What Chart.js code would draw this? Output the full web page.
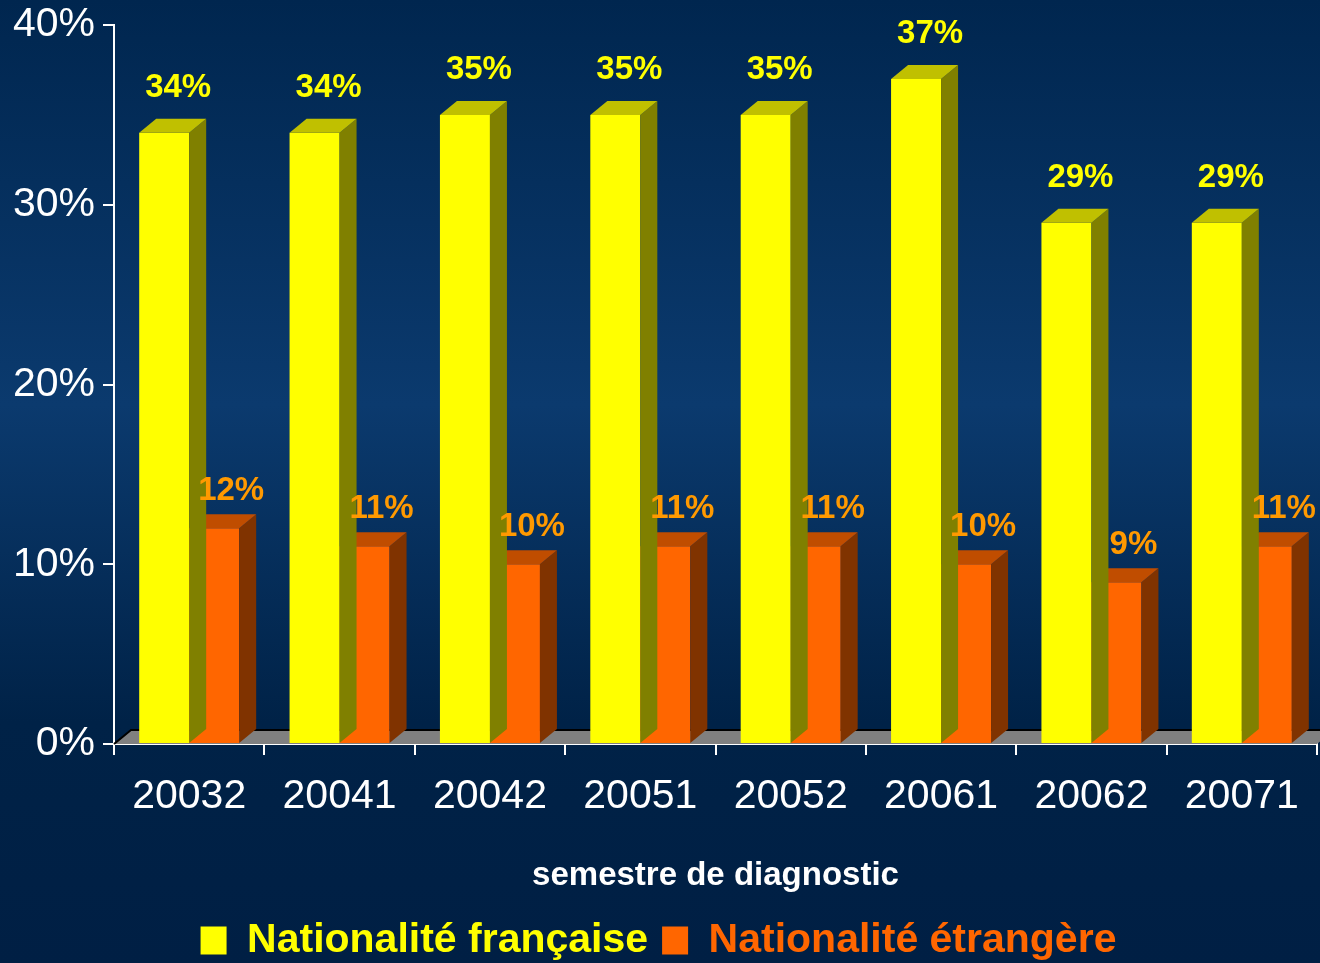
<!DOCTYPE html>
<html>
<head>
<meta charset="utf-8">
<script src="https://cdn.jsdelivr.net/npm/chart.js@4/dist/chart.umd.min.js"></script>
<style>
html,body{margin:0;padding:0;}
#wrap{
width:1320px;height:963px;position:relative;
background:linear-gradient(to bottom,#00264f 0%,#0b3a6e 42%,#002247 75%,#001f44 100%);
}
</style>
</head>
<body>
<div id="wrap"><canvas id="chart" width="1320" height="963"></canvas></div>
<script>

// Data

const semestres = ["20032","20041","20042","20051","20052","20061","20062","20071"];

const nationaliteFrancaise = [34,34,35,35,35,37,29,29];

const nationaliteEtrangere = [12,11,10,11,11,10,9,11];

const yTicks = [0,10,20,30,40];

const seriesNames = ["Nationalité française","Nationalité étrangère"];

// Colours

const frontColors = ["#ffff00","#ff6600"];
const sideColors = ["#808000","#803300"];
const topColors = ["#c0c000","#c04d00"];
const labelColors = ["#ffff00","#ff9900"];

const DX = 17;
const DY = 14;

// 3D faces + floor

const bar3d = {
id:"bar3d",
beforeDatasetsDraw(chart){
const ctx = chart.ctx;
const a = chart.chartArea;
ctx.save();
ctx.beginPath();
ctx.moveTo(a.left,a.bottom);
ctx.lineTo(a.left+DX,a.bottom-DY);
ctx.lineTo(a.right+DX,a.bottom-DY);
ctx.lineTo(a.right,a.bottom);
ctx.closePath();
ctx.fillStyle="#808080";
ctx.fill();
ctx.beginPath();
ctx.moveTo(a.left,a.bottom);
ctx.lineTo(a.left+DX,a.bottom-DY);
ctx.lineTo(a.right+DX,a.bottom-DY);
ctx.strokeStyle="#000000";
ctx.lineWidth=2;
ctx.stroke();
ctx.restore();
},
afterDatasetDraw(chart,args){
const ctx = chart.ctx;
const i = args.index;
ctx.save();
args.meta.data.forEach(function(bar){
const p = bar.getProps(["x","y","base","width"],true);
const l = p.x-p.width/2;
const r = p.x+p.width/2;
// side
ctx.beginPath();
ctx.moveTo(r,p.y);
ctx.lineTo(r+DX,p.y-DY);
ctx.lineTo(r+DX,p.base-DY);
ctx.lineTo(r,p.base);
ctx.closePath();
ctx.fillStyle=sideColors[i];
ctx.fill();
// top
ctx.beginPath();
ctx.moveTo(l,p.y);
ctx.lineTo(l+DX,p.y-DY);
ctx.lineTo(r+DX,p.y-DY);
ctx.lineTo(r,p.y);
ctx.closePath();
ctx.fillStyle=topColors[i];
ctx.fill();
});
ctx.restore();
}
};

// Value labels

const valueLabels = {
id:"valueLabels",
afterDatasetsDraw(chart){
const ctx = chart.ctx;
ctx.save();
ctx.font="bold 33px 'Liberation Sans', Arial, sans-serif";
ctx.textAlign="center";
ctx.textBaseline="middle";
chart.data.datasets.forEach(function(ds,i){
const meta = chart.getDatasetMeta(i);
meta.data.forEach(function(bar,j){
const p = bar.getProps(["x","y"],true);
ctx.fillStyle=labelColors[i];
const dx = i===0 ? 14 : 17;
const dy = i===0 ? 45 : 37;
ctx.fillText(ds.data[j]+"%",p.x+dx,p.y-dy);
});
});
ctx.restore();
}
};

// Chart

new Chart(
document.getElementById("chart"),
{
type:"bar",
data:{
labels:semestres,
datasets:[
{
label:seriesNames[0],
data:nationaliteFrancaise,
backgroundColor:frontColors[0],
borderWidth:0
},
{
label:seriesNames[1],
data:nationaliteEtrangere,
backgroundColor:frontColors[1],
borderWidth:0
}
]
},
options:{
responsive:false,
animation:false,
layout:{padding:{top:25,right:3,left:0,bottom:-8}},
datasets:{
bar:{
categoryPercentage:0.665,
barPercentage:1
}
},
scales:{
x:{
z:1,
grid:{
display:true,
offset:true,
drawOnChartArea:false,
drawTicks:true,
tickLength:11,
color:"#ffffff",
lineWidth:2
},
border:{color:"#ffffff",width:2},
ticks:{
color:"#ffffff",
padding:17,
font:{family:"'Liberation Sans', Arial, sans-serif",size:41}
},
title:{
display:true,
text:"semestre de diagnostic",
color:"#ffffff",
font:{family:"'Liberation Sans', Arial, sans-serif",size:33,weight:"bold"},
padding:{top:0,bottom:10}
},
afterFit(scale){
scale.height=162;
}
},
y:{
z:1,
min:0,
max:40,
afterBuildTicks(scale){
scale.ticks=yTicks.map(function(v){return {value:v};});
},
grid:{
drawOnChartArea:false,
tickLength:11,
color:"#ffffff",
lineWidth:2
},
border:{color:"#ffffff",width:2},
ticks:{
color:"#ffffff",
padding:8,
font:{family:"'Liberation Sans', Arial, sans-serif",size:41},
callback:function(v){return v+"%";}
},
afterFit(scale){
scale.width=114;
scale.paddingTop=0;
scale.paddingBottom=0;
}
}
},
plugins:{
tooltip:{enabled:false},
legend:{
display:true,
position:"bottom",
labels:{
boxWidth:26,
boxHeight:28,
padding:14,
font:{family:"'Liberation Sans', Arial, sans-serif",size:41,weight:"bold"},
generateLabels(chart){
return chart.data.datasets.map(function(ds,i){
return {
text:ds.label,
fillStyle:frontColors[i],
strokeStyle:frontColors[i],
lineWidth:0,
fontColor:frontColors[i],
datasetIndex:i
};
});
}
}
}
}
},
plugins:[bar3d,valueLabels]
}
);

</script>
</body>
</html>
